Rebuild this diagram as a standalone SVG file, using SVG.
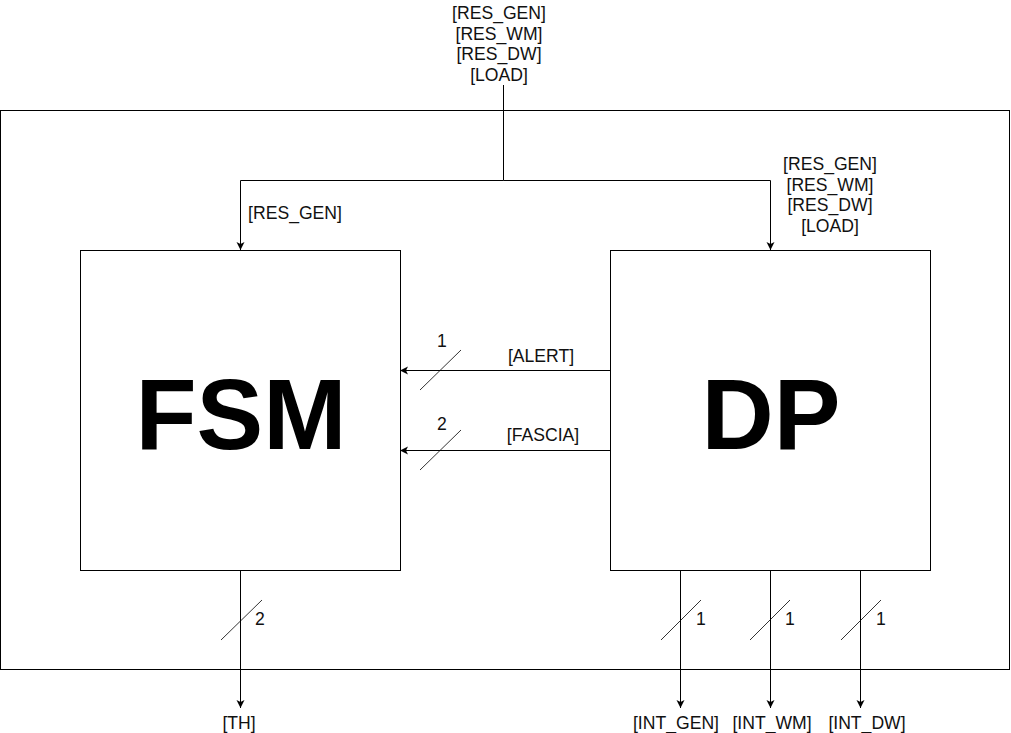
<svg xmlns="http://www.w3.org/2000/svg" width="1011" height="733" viewBox="0 0 1011 733">
<style>
.box{fill:#fff;stroke:#000;stroke-width:1}
.ln{fill:none;stroke:#000;stroke-width:1}
.sl{fill:none;stroke:#000;stroke-width:0.8}
.t{font-family:"Liberation Sans",Arial,sans-serif;font-size:17.6px;fill:#111;text-anchor:middle}
.big{font-family:"Liberation Sans",Arial,sans-serif;font-size:100px;font-weight:bold;fill:#000;text-anchor:middle}
</style>
<defs>
<marker id="ah" markerUnits="userSpaceOnUse" markerWidth="10" markerHeight="10" viewBox="0 0 10 10" refX="9" refY="5" orient="auto">
<path d="M1,1 L9,5 L1,9 L3,5 Z" fill="#000"/>
</marker>
</defs>
<rect id="outer" class="box" x="0.5" y="110.5" width="1009" height="559"/>
<g id="connectors">
<path class="ln" d="M503.5,85 V180.5 H240.5 V250" marker-end="url(#ah)"/>
<path class="ln" d="M503.5,180.5 H770.5 V250" marker-end="url(#ah)"/>
<path class="ln" d="M610,370.5 H400" marker-end="url(#ah)"/>
<path class="ln" d="M610,450.5 H400" marker-end="url(#ah)"/>
<path class="ln" d="M240.5,570 V708" marker-end="url(#ah)"/>
<path class="ln" d="M680.5,570 V708" marker-end="url(#ah)"/>
<path class="ln" d="M770.5,570 V708" marker-end="url(#ah)"/>
<path class="ln" d="M860.5,570 V708" marker-end="url(#ah)"/>
<line class="sl" x1="420" y1="390" x2="461" y2="350"/>
<line class="sl" x1="420" y1="470" x2="461" y2="430"/>
<line class="sl" x1="221" y1="640" x2="262" y2="600"/>
<line class="sl" x1="661" y1="640" x2="701" y2="600"/>
<line class="sl" x1="750" y1="640" x2="790" y2="600"/>
<line class="sl" x1="841" y1="640" x2="881" y2="600"/>
</g>
<g id="fsm">
<rect class="box" x="80.5" y="250.5" width="320" height="320"/>
<text class="big" x="241" y="449">FSM</text>
</g>
<g id="dp">
<rect class="box" x="610.5" y="250.5" width="320" height="320"/>
<text class="big" x="771" y="449">DP</text>
</g>
<g id="labels">
<text class="t" x="499" y="19">[RES_GEN]</text>
<text class="t" x="499" y="39.5">[RES_WM]</text>
<text class="t" x="499" y="60">[RES_DW]</text>
<text class="t" x="499" y="80.5">[LOAD]</text>
<text class="t" x="830" y="170">[RES_GEN]</text>
<text class="t" x="830" y="190.5">[RES_WM]</text>
<text class="t" x="830" y="211">[RES_DW]</text>
<text class="t" x="830" y="231.5">[LOAD]</text>
<text class="t" x="295" y="219">[RES_GEN]</text>
<text class="t" x="442" y="347">1</text>
<text class="t" x="541" y="362">[ALERT]</text>
<text class="t" x="442" y="430">2</text>
<text class="t" x="543" y="441">[FASCIA]</text>
<text class="t" x="260" y="625">2</text>
<text class="t" x="701" y="625">1</text>
<text class="t" x="790" y="625">1</text>
<text class="t" x="881" y="625">1</text>
<text class="t" x="239" y="729">[TH]</text>
<text class="t" x="676" y="729">[INT_GEN]</text>
<text class="t" x="772" y="729">[INT_WM]</text>
<text class="t" x="867" y="729">[INT_DW]</text>
</g>
</svg>
